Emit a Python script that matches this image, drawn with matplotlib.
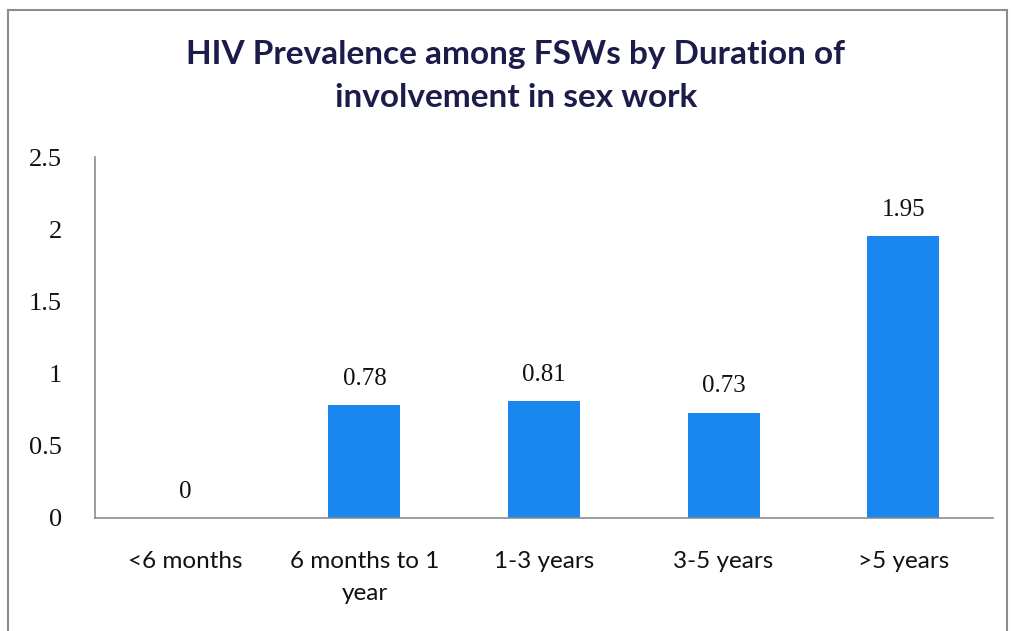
import matplotlib
matplotlib.use("Agg")
import matplotlib.pyplot as plt
from matplotlib.patches import Rectangle

categories = ["<6 months", "6 months to 1\nyear", "1-3 years", "3-5 years", ">5 years"]
values = [0, 0.78, 0.81, 0.73, 1.95]
value_labels = ["0", "0.78", "0.81", "0.73", "1.95"]
yticks = [0, 0.5, 1, 1.5, 2, 2.5]
ytick_labels = ["0", "0.5", "1", "1.5", "2", "2.5"]
title = "HIV Prevalence among FSWs by Duration of\ninvolvement in sex work"

W, H = 1011, 631
fig = plt.figure(figsize=(W / 100, H / 100), dpi=100)
fig.patch.set_facecolor("white")

# outer frame
fig.patches.append(Rectangle((8 / W, -0.05), (1007 - 8) / W, (H - 10) / H + 0.05,
                             transform=fig.transFigure, fill=False,
                             edgecolor="#8c8c8c", linewidth=1.5))

ax = fig.add_axes([95 / W, (H - 518) / H, (993 - 95) / W, (518 - 157) / H])
x = list(range(len(categories)))
ax.bar(x, values, width=0.4, color="#1A86F0")
ax.set_xlim(-0.5, len(categories) - 0.5)
ax.set_ylim(0, 2.5)

for xi, v, lab in zip(x, values, value_labels):
    ax.annotate(lab, (xi, v), xytext=(0, 11), textcoords="offset points",
                ha="center", va="bottom", fontsize=18, family="Liberation Serif",
                color="#111111")

ax.set_yticks(yticks)
ax.set_yticklabels(ytick_labels, family="Liberation Serif", fontsize=19, color="#111111")
ax.set_xticks(x)
ax.set_xticklabels(categories, family="Lato", fontsize=17.5, color="#111111",
                   linespacing=1.6)
ax.tick_params(axis="both", length=0)
ax.tick_params(axis="y", pad=24)
ax.tick_params(axis="x", pad=24)

for s in ["top", "right"]:
    ax.spines[s].set_visible(False)
for s in ["left", "bottom"]:
    ax.spines[s].set_color("#8c8c8c")
    ax.spines[s].set_linewidth(1.2)

fig.text(516 / W, 1 - 76 / H, title, ha="center", va="center", fontsize=24,
         fontweight="bold", family="Lato", color="#1c1c4a", linespacing=1.6)

fig.savefig("out.png", dpi=100)
